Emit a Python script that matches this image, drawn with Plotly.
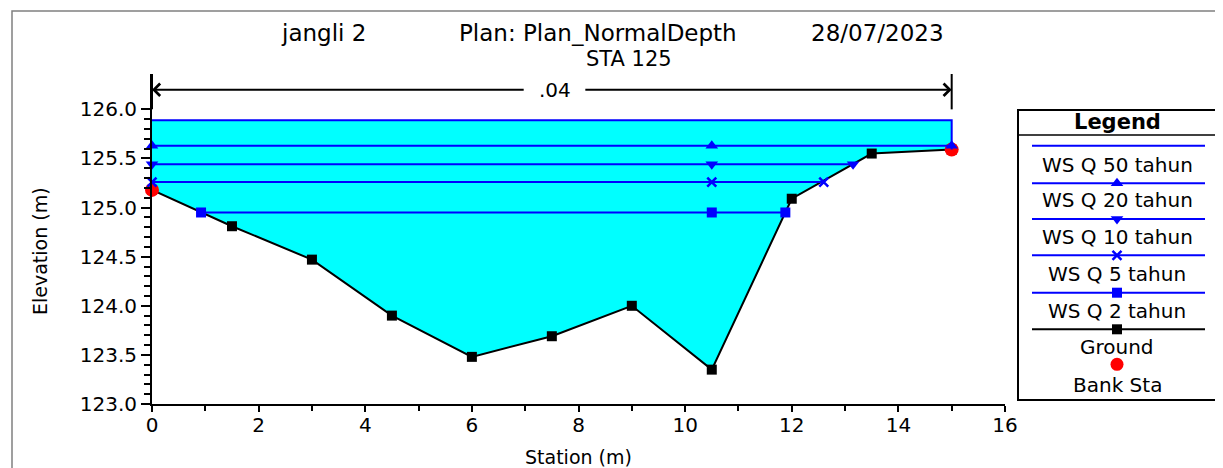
import plotly.graph_objects as go

# ---------------- data ----------------
ground_sta = [0.0, 1.5, 3.0, 4.5, 6.0, 7.5, 9.0, 10.5, 12.0, 13.5, 15.0]
ground_elev = [125.18, 124.81, 124.47, 123.90, 123.48, 123.69, 124.00, 123.35, 125.09, 125.55, 125.59]

bank_sta = [0.0, 15.0]
bank_elev = [125.18, 125.59]

ws_names = ["WS Q 50 tahun", "WS Q 20 tahun", "WS Q 10 tahun", "WS Q 5 tahun", "WS Q 2 tahun"]
ws_elev = [125.89, 125.63, 125.44, 125.26, 124.95]
ws_left = [0.0, 0.0, 0.0, 0.0, 0.92]
ws_right = [15.0, 15.0, 13.15, 12.6, 11.88]
ws_mid = [None, 10.5, 10.5, 10.5, 10.5]
ws_symbols = [None, "triangle-up", "triangle-down", "x-thin", "square"]

n_value = ".04"
n_left, n_right = 0.0, 15.0
n_elev = 126.2

x_ticks = [0, 2, 4, 6, 8, 10, 12, 14, 16]
y_ticks = [123.0, 123.5, 124.0, 124.5, 125.0, 125.5, 126.0]

title_parts = ["jangli 2", "Plan: Plan_NormalDepth", "28/07/2023"]
subtitle = "STA 125"

# ---------------- layout geometry (reference pixels) ----------------
W_FIG, H_FIG = 1223, 468
OFF = 8                      # page body margin
L, T = 152, 74               # plot-area origin in reference pixels
PW, PH = 1064, 330           # plot area incl. legend region
MAIN_RIGHT = 1005

def px(xp):
    return (xp - L) / PW

def py(yp):
    return (T + PH - yp) / PH

FONT = "DejaVu Sans"
BLUE = "#0000FF"
CYAN = "#00FFFF"

fig = go.Figure()

# water fill (cyan) between top water surface and ground
fig.add_trace(go.Scatter(
    x=[ws_left[0]] + ground_sta + [ws_right[0]],
    y=[ws_elev[0]] + ground_elev + [ws_elev[0]],
    fill="toself", fillcolor=CYAN, mode="lines", line=dict(width=0),
    hoverinfo="skip", showlegend=False))

# ground
fig.add_trace(go.Scatter(
    x=ground_sta, y=ground_elev, mode="lines+markers",
    line=dict(color="black", width=2),
    marker=dict(symbol="square", size=10, color="black"),
    showlegend=False, cliponaxis=False))

# bank stations
fig.add_trace(go.Scatter(
    x=bank_sta, y=bank_elev, mode="markers",
    marker=dict(symbol="circle", size=14, color="red"),
    showlegend=False, cliponaxis=False))

# water surfaces
for i, name in enumerate(ws_names):
    if ws_symbols[i] is None:
        fig.add_trace(go.Scatter(
            x=[ws_left[i], ws_right[i], ws_right[i]],
            y=[ws_elev[i], ws_elev[i], ground_elev[-1]],
            mode="lines", line=dict(color=BLUE, width=2),
            showlegend=False, cliponaxis=False))
    else:
        fig.add_trace(go.Scatter(
            x=[ws_left[i], ws_right[i]], y=[ws_elev[i], ws_elev[i]],
            mode="lines", line=dict(color=BLUE, width=2),
            showlegend=False, cliponaxis=False))
        sz = 9 if ws_symbols[i] == "x-thin" else (10 if ws_symbols[i] == "square" else 11)
        fig.add_trace(go.Scatter(
            x=[ws_left[i], ws_mid[i], ws_right[i]], y=[ws_elev[i]] * 3,
            mode="markers",
            marker=dict(symbol=ws_symbols[i], size=sz, color=BLUE,
                        line=dict(color=BLUE, width=2.5 if ws_symbols[i] == "x-thin" else 0)),
            showlegend=False, cliponaxis=False))

# ---------------- custom legend (in pixel-space overlay axes) ----------------
leg_line_y = [145.7, 183.3, 219.0, 255.3, 292.7, 329.3]
leg_text_y = [165.0, 200.0, 236.7, 274.0, 310.7, 346.7, 385.0]
leg_x0, leg_xc, leg_x1 = 1032, 1117, 1205
leg_labels = ws_names + ["Ground", "Bank Sta"]
leg_colors = [BLUE] * 5 + ["black"]
leg_symbols = ws_symbols + ["square"]

for j in range(6):
    sym = leg_symbols[j]
    fig.add_trace(go.Scatter(
        x=[leg_x0, leg_x1], y=[leg_line_y[j]] * 2, xaxis="x2", yaxis="y2",
        mode="lines", line=dict(color=leg_colors[j], width=2),
        showlegend=False, hoverinfo="skip"))
    if sym is not None:
        sz = 9 if sym == "x-thin" else (10 if sym == "square" else 11)
        fig.add_trace(go.Scatter(
            x=[leg_xc], y=[leg_line_y[j]], xaxis="x2", yaxis="y2", mode="markers",
            marker=dict(symbol=sym, size=sz, color=leg_colors[j],
                        line=dict(color=leg_colors[j], width=2.5 if sym == "x-thin" else 0)),
            showlegend=False, hoverinfo="skip"))
fig.add_trace(go.Scatter(
    x=[leg_xc], y=[364.3], xaxis="x2", yaxis="y2", mode="markers",
    marker=dict(symbol="circle", size=13, color="red"),
    showlegend=False, hoverinfo="skip"))

annotations = []
for j, lab in enumerate(leg_labels):
    annotations.append(dict(
        x=px(leg_xc), y=py(leg_text_y[j]), xref="paper", yref="paper",
        text=lab, showarrow=False, xanchor="center", yanchor="middle",
        font=dict(family=FONT, size=20, color="black")))
annotations.append(dict(
    x=px(leg_xc), y=py(122), xref="paper", yref="paper", text="<b>Legend</b>",
    showarrow=False, xanchor="center", yanchor="middle",
    font=dict(family=FONT, size=21, color="black")))

# titles
title_x = [323, 598, 877]
for t, xc in zip(title_parts, title_x):
    annotations.append(dict(
        x=px(xc), y=py(33), xref="paper", yref="paper", text=t, showarrow=False,
        xanchor="center", yanchor="middle", font=dict(family=FONT, size=23, color="black")))
annotations.append(dict(
    x=px(629), y=py(59), xref="paper", yref="paper", text=subtitle, showarrow=False,
    xanchor="center", yanchor="middle", font=dict(family=FONT, size=21, color="black")))

# axis titles
annotations.append(dict(
    x=px(578), y=py(457), xref="paper", yref="paper", text="Station (m)", showarrow=False,
    xanchor="center", yanchor="middle", font=dict(family=FONT, size=19, color="black")))
annotations.append(dict(
    x=px(40), y=py(251), xref="paper", yref="paper", text="Elevation (m)", showarrow=False,
    textangle=-90, xanchor="center", yanchor="middle",
    font=dict(family=FONT, size=19, color="black")))

# n-value bar
n_text_x = (n_left + n_right) / 2 + 0.05
annotations.append(dict(x=n_left, y=n_elev, ax=n_text_x - 0.55, ay=n_elev, xref="x", yref="y",
                        axref="x", ayref="y", text="", showarrow=True, arrowhead=4,
                        arrowsize=1.2, arrowwidth=2, arrowcolor="black"))
annotations.append(dict(x=n_right, y=n_elev, ax=n_text_x + 0.55, ay=n_elev, xref="x", yref="y",
                        axref="x", ayref="y", text="", showarrow=True, arrowhead=4,
                        arrowsize=1.2, arrowwidth=2, arrowcolor="black"))
annotations.append(dict(x=n_text_x, y=n_elev, xref="x", yref="y", text=n_value, showarrow=False,
                        xanchor="center", yanchor="middle",
                        font=dict(family=FONT, size=20, color="black")))

shapes = [
    # n-value end bars
    dict(type="line", xref="x", yref="y", x0=n_left, x1=n_left, y0=126.0, y1=126.4,
         line=dict(color="black", width=2)),
    dict(type="line", xref="x", yref="y", x0=n_right, x1=n_right, y0=126.0, y1=126.4,
         line=dict(color="black", width=2)),
    # legend box
    dict(type="rect", xref="paper", yref="paper", x0=px(1018), x1=px(1216), y0=py(400), y1=py(110),
         line=dict(color="black", width=2), fillcolor="rgba(0,0,0,0)"),
    dict(type="line", xref="paper", yref="paper", x0=px(1018), x1=px(1220), y0=py(135), y1=py(135),
         line=dict(color="black", width=1.5)),
    # outer frame
    dict(type="rect", xref="paper", yref="paper", x0=px(12), x1=px(1240), y0=py(490), y1=py(11),
         line=dict(color="#808080", width=1.5), fillcolor="rgba(0,0,0,0)", layer="below"),
]

y_minor = [round(123.0 + 0.1 * k, 1) for k in range(1, 30) if k % 5 != 0]

fig.update_layout(
    width=W_FIG, height=H_FIG,
    margin=dict(l=L - OFF, r=W_FIG - (L + PW - OFF), t=T - OFF, b=H_FIG - (T + PH - OFF), pad=0,
                autoexpand=False),
    paper_bgcolor="white", plot_bgcolor="rgba(0,0,0,0)",
    showlegend=False,
    font=dict(family=FONT, color="black"),
    xaxis=dict(domain=[0, (MAIN_RIGHT - L) / PW], range=[0, 16], tickvals=x_ticks,
               ticktext=[str(v) for v in x_ticks],
               showgrid=False, zeroline=False, showline=True, linecolor="black", linewidth=2,
               ticks="outside", ticklen=6, tickwidth=1.5, tickcolor="black",
               ticklabelstandoff=-4,
               minor=dict(dtick=1, ticks="outside", ticklen=5, tickwidth=1.5, tickcolor="black",
                          showgrid=False),
               tickfont=dict(family=FONT, size=20, color="black")),
    yaxis=dict(range=[123.0, 126.36], tickvals=y_ticks,
               ticktext=[f"{v:.1f}" for v in y_ticks],
               showgrid=False, zeroline=False, showline=True, linecolor="black", linewidth=2,
               ticks="outside", ticklen=9, tickwidth=1.5, tickcolor="black",
               minor=dict(tickvals=y_minor, ticks="outside", ticklen=6, tickwidth=1.5,
                          tickcolor="black", showgrid=False),
               tickfont=dict(family=FONT, size=20, color="black")),
    xaxis2=dict(domain=[0, 1], range=[L, L + PW], anchor="y2", visible=False, fixedrange=True),
    yaxis2=dict(domain=[0, 1], range=[T + PH, T], anchor="x2", visible=False, fixedrange=True),
    annotations=annotations,
    shapes=shapes,
)

fig.write_html("out.html")
